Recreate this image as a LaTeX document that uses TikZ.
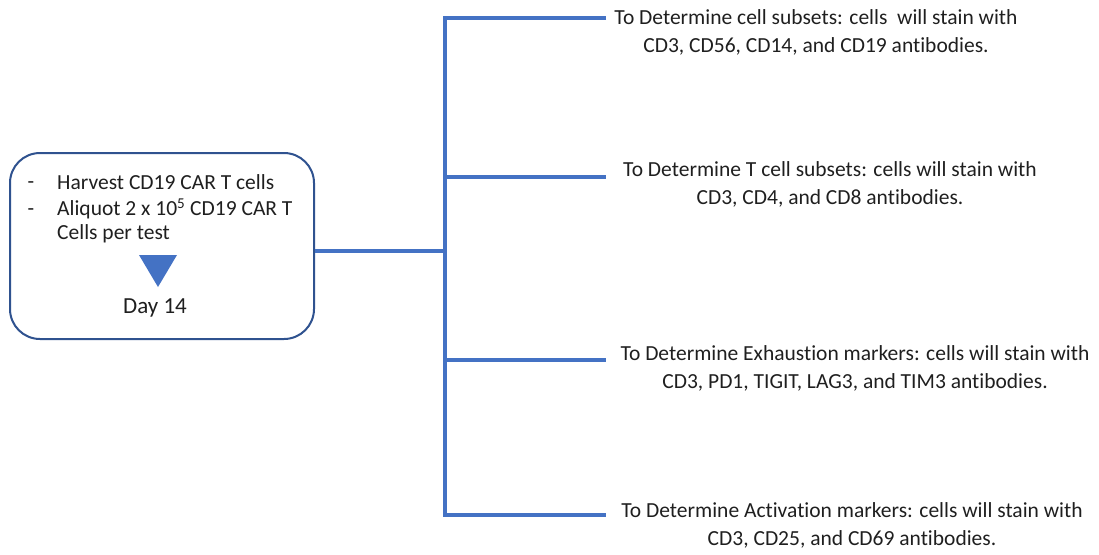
\documentclass[tikz,border=0pt]{standalone}
\usepackage{fontspec}
\setmainfont{Carlito}[Ligatures={NoCommon}]
\definecolor{lineblue}{HTML}{4472C4}
\definecolor{boxblue}{HTML}{2F528F}
\tikzset{
  conn/.style={draw=lineblue, line width=3.2pt},
  txt/.style={font=\fontsize{21.5}{28}\selectfont, inner sep=0pt, text=black!88},
  boxtxt/.style={font=\fontsize{21.5}{26}\selectfont, inner sep=0pt, text=black!88},
  mainbox/.style={draw=boxblue, line width=2pt, rounded corners=30pt, minimum width=304pt, minimum height=186pt, inner sep=0pt}
}
\begin{document}
\begin{tikzpicture}[x=1pt,y=-1pt]
\useasboundingbox (0,0) rectangle (1099,554);
% main box
\node[mainbox] (box) at (162,246) {};
\node[boxtxt] (d1) at (31,185) {-};
\node[boxtxt, anchor=west] (l1) at (57,182) {Harvest CD19 CAR T cells};
\node[boxtxt] (d2) at (31,212) {-};
\node[boxtxt, anchor=west] (l2) at (57,209) {Aliquot 2 x 10\textsuperscript{5} CD19 CAR T};
\node[boxtxt, anchor=west] (l3) at (57,234) {Cells per test};
\fill[lineblue] (139,255) -- (177,255) -- (158,287) -- cycle;
\node[boxtxt, font=\fontsize{23}{26}\selectfont] (day) at (155,308) {Day 14};
% connectors
\coordinate (j) at (445,251);
\coordinate (b1) at (445,18);
\coordinate (b2) at (445,177);
\coordinate (b3) at (445,360);
\coordinate (b4) at (445,515);
\coordinate (e1) at (606,18);
\coordinate (e2) at (606,177);
\coordinate (e3) at (606,360);
\coordinate (e4) at (606,515);
\draw[conn] (box.east |- j) -- (j);
\draw[conn] (e1) -- (b1) -- (b4) -- (e4);
\draw[conn] (b2) -- (e2);
\draw[conn] (b3) -- (e3);
% texts
\node[txt, align=center] (t1) at (816,32) {To Determine cell subsets: cells\ \ will stain with\\CD3, CD56, CD14, and CD19 antibodies.};
\node[txt, align=center] (t2) at (830,184.5) {To Determine T cell subsets: cells will stain with\\CD3, CD4, and CD8 antibodies.};
\node[txt, align=center] (t3) at (855,368.5) {To Determine Exhaustion markers: cells will stain with\\CD3, PD1, TIGIT, LAG3, and TIM3 antibodies.};
\node[txt, align=center] (t4) at (852,525.5) {To Determine Activation markers: cells will stain with\\CD3, CD25, and CD69 antibodies.};
\end{tikzpicture}
\end{document}
